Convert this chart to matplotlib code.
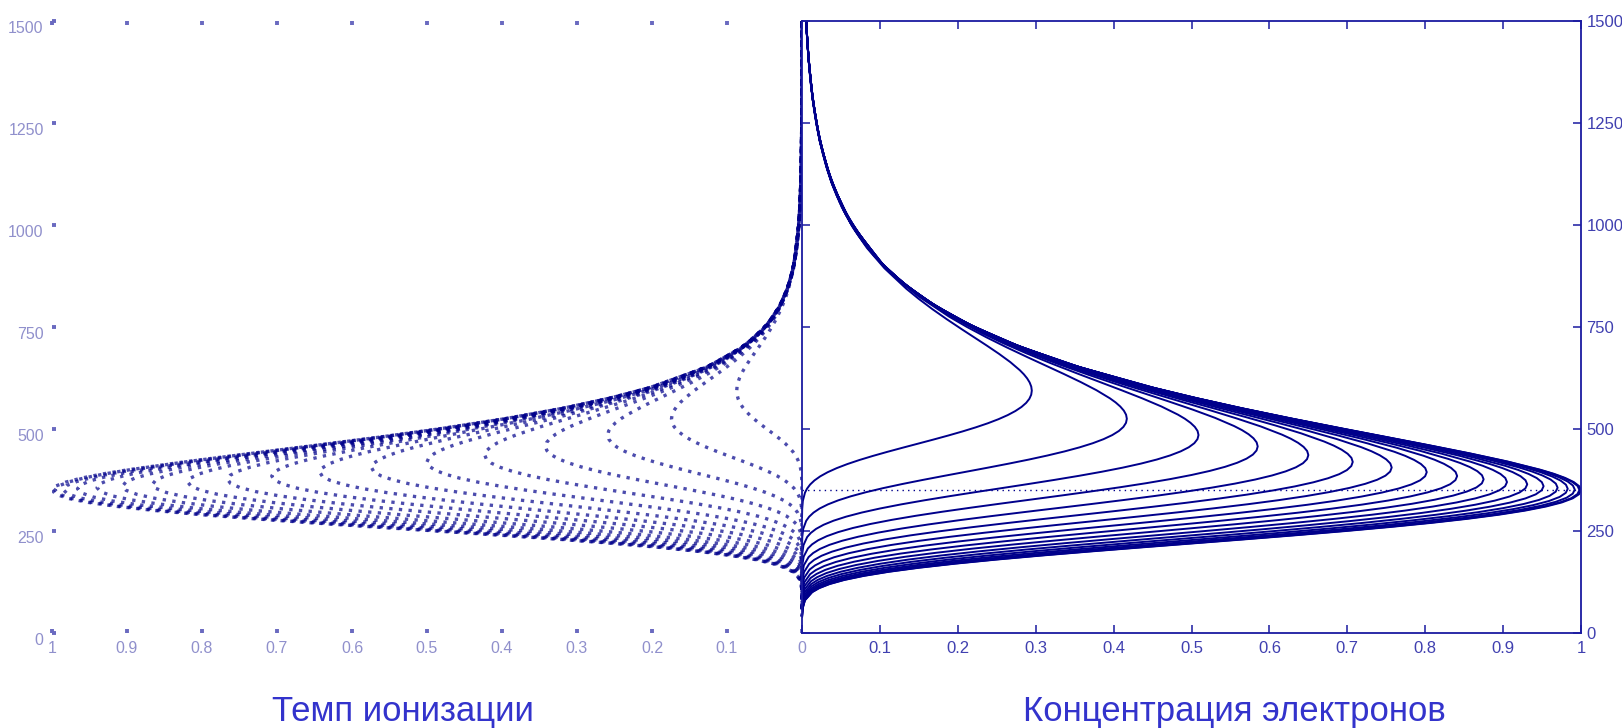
import numpy as np
import matplotlib
matplotlib.use("Agg")
import matplotlib.pyplot as plt

# ---------------- Data ----------------
# altitude grid of the outermost profile (km)
heights = [40, 60, 80, 100, 110, 120, 130, 140, 150, 160, 170, 180, 190, 200,
           210, 220, 230, 240, 250, 260, 270, 280, 290, 300, 310, 320, 330,
           340, 350, 360, 370, 380, 390, 400, 420, 440, 460, 480, 500, 525,
           550, 575, 600, 650, 700, 750, 800, 850, 900, 1000, 1100, 1200,
           1300, 1400, 1500]

# outermost (overhead sun) electron concentration, normalised
conc_outer = [0.00012, 0.0008, 0.0037, 0.0130, 0.0221, 0.0355, 0.0543, 0.0794,
              0.1114, 0.1506, 0.1970, 0.2498, 0.3084, 0.3713, 0.4371, 0.5043,
              0.5712, 0.6363, 0.6983, 0.7559, 0.8084, 0.8548, 0.8949, 0.9283,
              0.9551, 0.9754, 0.9894, 0.9974, 1.0000, 0.9976, 0.9907, 0.9798,
              0.9655, 0.9481, 0.9064, 0.8579, 0.8054, 0.7511, 0.6966, 0.6301,
              0.5668, 0.5078, 0.4534, 0.3588, 0.2822, 0.2211, 0.1728, 0.1349,
              0.1052, 0.0639, 0.0388, 0.0235, 0.0143, 0.0087, 0.0052]

# outermost (overhead sun) ionization rate, normalised
rate_outer = [0.0, 0.0000006, 0.000014, 0.00017, 0.00049, 0.00126, 0.00295,
              0.00631, 0.0124, 0.0227, 0.0388, 0.0624, 0.0951, 0.1378, 0.1911,
              0.2543, 0.3262, 0.4049, 0.4876, 0.5714, 0.6534, 0.7307, 0.8008,
              0.8618, 0.9123, 0.9514, 0.9788, 0.9948, 1.0000, 0.9952, 0.9814,
              0.9600, 0.9321, 0.8989, 0.8215, 0.7360, 0.6486, 0.5641, 0.4852,
              0.3970, 0.3213, 0.2579, 0.2055, 0.1288, 0.0796, 0.0489, 0.0299,
              0.0182, 0.0111, 0.0041, 0.0015, 0.00055, 0.0002, 0.000075,
              0.000028]

# zenith angles of the family of curves (deg)
zenith = [0, 5, 10, 15, 20, 25, 30, 35, 40, 45, 50, 55, 60, 65, 70, 75, 80, 85]
# height of each curve's maximum (km)
peak_heights = [350.0, 350.4, 351.5, 353.5, 356.2, 359.8, 364.4, 369.9, 376.7,
                384.7, 394.2, 405.6, 419.3, 436.1, 457.3, 485.2, 525.1, 594.0]
# maximum of each concentration curve
conc_peaks = [1.000, 0.998, 0.992, 0.983, 0.970, 0.952, 0.931, 0.905, 0.875,
              0.841, 0.802, 0.757, 0.707, 0.650, 0.585, 0.509, 0.417, 0.295]
# maximum of each ionization rate curve
rate_peaks = [1.000, 0.996, 0.985, 0.966, 0.940, 0.906, 0.866, 0.819, 0.766,
              0.707, 0.643, 0.574, 0.500, 0.423, 0.342, 0.259, 0.174, 0.087]

x_ticks = [0, 0.1, 0.2, 0.3, 0.4, 0.5, 0.6, 0.7, 0.8, 0.9, 1]
x_tick_labels = ["0", "0.1", "0.2", "0.3", "0.4", "0.5", "0.6", "0.7", "0.8", "0.9", "1"]
y_ticks = [0, 250, 500, 750, 1000, 1250, 1500]

NAVY = "#00008b"
LABEL = "#4040b0"
PALE = "#9090cc"

plt.rcParams["font.family"] = ["Liberation Sans", "DejaVu Sans"]

fig = plt.figure(figsize=(16.22, 7.28), dpi=100)
W, H = 1622, 728
ax_l = fig.add_axes([52 / W, 95 / H, 750 / W, 612 / H])
ax_r = fig.add_axes([802 / W, 95 / H, 779 / W, 612 / H])

h = np.array(heights)
base_peak = peak_heights[0]

# ---------------- Left: ionization rate (dotted) ----------------
for i, (amp, hp) in enumerate(zip(rate_peaks, peak_heights)):
    # shift the dot phase per curve so the dots do not line up in rows
    ax_l.plot(amp * np.array(rate_outer), h + (hp - base_peak), color=NAVY,
              alpha=0.7, lw=2.4, linestyle=((i * 0.37) % 2.9, (1, 1.9)),
              dash_capstyle="butt")

ax_l.set_xlim(1, 0)
ax_l.set_ylim(0, 1500)
for s in ax_l.spines.values():
    s.set_visible(False)
ax_l.set_xticks(x_ticks)
ax_l.set_xticklabels(x_tick_labels)
ax_l.set_yticks(y_ticks)
ax_l.tick_params(direction="in", length=2.8, width=2.8, color="#6a6ac0",
                 labelcolor=PALE, labelsize=11.5, top=True, pad=6)
for lab in ax_l.get_yticklabels():
    lab.set_va("top")

# ---------------- Right: electron concentration ----------------
for amp, hp in zip(conc_peaks, peak_heights):
    ax_r.plot(amp * np.array(conc_outer), h + (hp - base_peak), color=NAVY, lw=1.4)

ax_r.axhline(base_peak, color=NAVY, lw=1.0, linestyle=(0, (1, 3)))

ax_r.set_xlim(0, 1)
ax_r.set_ylim(0, 1500)
for s in ax_r.spines.values():
    s.set_color("#1a1aa0")
    s.set_linewidth(1.3)
ax_r.set_xticks(x_ticks)
ax_r.set_xticklabels([""] + x_tick_labels[1:])
ax_r.set_yticks(y_ticks)
ax_r.yaxis.tick_right()
ax_r.tick_params(axis="x", direction="in", length=6, width=1.1, color="#1a1aa0",
                 labelcolor=LABEL, labelsize=12, top=True, pad=6)
ax_r.tick_params(axis="y", direction="in", length=6, width=1.1, color="#1a1aa0",
                 labelcolor=LABEL, labelsize=12, left=True, right=True, pad=4)

# ---------------- Captions ----------------
fig.text(403 / W, 1 - 711 / H, "Темп ионизации", color="#3333cc",
         fontsize=25, ha="center", va="center")
fig.text(1234 / W, 1 - 711 / H, "Концентрация электронов", color="#3333cc",
         fontsize=25, ha="center", va="center")

fig.savefig("out.png", dpi=100)
